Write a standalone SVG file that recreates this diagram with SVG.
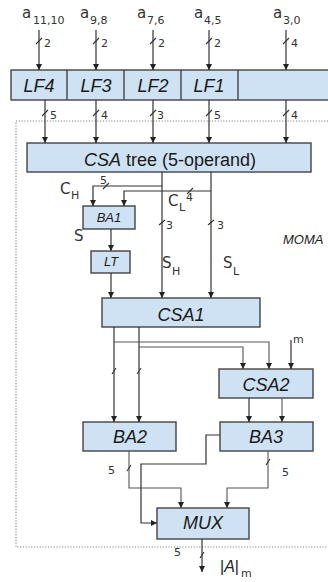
<svg xmlns="http://www.w3.org/2000/svg" width="328" height="582" viewBox="0 0 328 582">
<defs>
<marker id="ah" markerUnits="userSpaceOnUse" markerWidth="7" markerHeight="7" refX="6" refY="3" orient="auto">
<path d="M0,0 L6,3 L0,6 z" fill="#222"/>
</marker>
<style>
.box{fill:#cfe2f3;stroke:#444;stroke-width:1.4}
.ln{fill:none;stroke:#333;stroke-width:1.2}
.lg{fill:none;stroke:#555;stroke-width:1.1}
.ar{marker-end:url(#ah)}
.sl{stroke:#333;stroke-width:1.1}
.bl{font-family:"Liberation Sans",Arial,sans-serif;font-style:italic;font-size:18px;fill:#1a1a1a;text-anchor:middle}
.sm{font-family:"Liberation Sans",Arial,sans-serif;font-style:italic;font-size:13px;fill:#1a1a1a;text-anchor:middle}
.n{font-family:"DejaVu Sans",sans-serif;font-size:11px;fill:#333}
.lab{font-family:"DejaVu Sans",sans-serif;font-size:15px;fill:#333}
.sub{font-family:"DejaVu Sans",sans-serif;font-size:11px;fill:#333}
</style>
</defs>
<rect width="328" height="582" fill="#fff"/>
<rect x="16" y="121" width="330" height="426" fill="none" stroke="#888" stroke-width="1.2" stroke-dasharray="1.2,1.6"/>

<g id="inputs-labels">
<text class="lab" x="22" y="18" font-size="16">a</text><text class="sub" x="33" y="24">11,10</text>
<text class="lab" x="80" y="18" font-size="16">a</text><text class="sub" x="90" y="24">9,8</text>
<text class="lab" x="137" y="18" font-size="16">a</text><text class="sub" x="147" y="24">7,6</text>
<text class="lab" x="194" y="18" font-size="16">a</text><text class="sub" x="204" y="24">4,5</text>
<text class="lab" x="273" y="18" font-size="16">a</text><text class="sub" x="283" y="24">3,0</text>
</g>

<g id="LF-row">
<rect class="box" x="11" y="70" width="340" height="30"/>
<line x1="67" y1="70" x2="67" y2="100" stroke="#444" stroke-width="1.4"/>
<line x1="124" y1="70" x2="124" y2="100" stroke="#444" stroke-width="1.4"/>
<line x1="181" y1="70" x2="181" y2="100" stroke="#444" stroke-width="1.4"/>
<line x1="238" y1="70" x2="238" y2="100" stroke="#444" stroke-width="1.4"/>
</g>
<g id="LF4"><text class="bl" x="39" y="92">LF4</text></g>
<g id="LF3"><text class="bl" x="96" y="92">LF3</text></g>
<g id="LF2"><text class="bl" x="153" y="92">LF2</text></g>
<g id="LF1"><text class="bl" x="209" y="92">LF1</text></g>

<g id="CSAtree"><rect class="box" x="27" y="143" width="284" height="29"/>
<text class="bl" x="170" y="166"><tspan>CSA</tspan><tspan font-style="normal"> tree (5-operand)</tspan></text></g>
<g id="BA1"><rect class="box" x="83" y="206" width="52" height="23"/><text class="sm" x="109" y="222">BA1</text></g>
<g id="LT"><rect class="box" x="91" y="251" width="39" height="22"/><text class="sm" x="111" y="266">LT</text></g>
<g id="CSA1"><rect class="box" x="102" y="298" width="158" height="29"/><text class="bl" x="181" y="321">CSA1</text></g>
<g id="CSA2"><rect class="box" x="219" y="369" width="94" height="29"/><text class="bl" x="266" y="391">CSA2</text></g>
<g id="BA2"><rect class="box" x="83" y="422" width="93" height="29"/><text class="bl" x="130" y="443">BA2</text></g>
<g id="BA3"><rect class="box" x="220" y="422" width="93" height="29"/><text class="bl" x="266" y="443">BA3</text></g>
<g id="MUX"><rect class="box" x="157" y="508" width="92" height="31"/><text class="bl" x="203" y="529">MUX</text></g>

<g id="connectors">
<line class="ln ar" x1="39" y1="30" x2="39" y2="70"/>
<line class="ln ar" x1="96" y1="30" x2="96" y2="70"/>
<line class="ln ar" x1="153" y1="30" x2="153" y2="70"/>
<line class="ln ar" x1="209" y1="30" x2="209" y2="70"/>
<line class="ln ar" x1="286" y1="30" x2="286" y2="70"/>
<line class="ln ar" x1="45" y1="100" x2="45" y2="143"/>
<line class="ln ar" x1="96" y1="100" x2="96" y2="143"/>
<line class="ln ar" x1="153" y1="100" x2="153" y2="143"/>
<line class="ln ar" x1="209" y1="100" x2="209" y2="143"/>
<line class="ln ar" x1="286" y1="100" x2="286" y2="143"/>
<line class="ln ar" x1="162" y1="172" x2="162" y2="298"/>
<line class="ln ar" x1="211" y1="172" x2="211" y2="298"/>
<path class="ln ar" d="M162,186 H93 V206"/>
<path class="ln ar" d="M211,191 H124 V206"/>
<line class="ln ar" x1="111" y1="229" x2="111" y2="251"/>
<line class="ln ar" x1="111" y1="273" x2="111" y2="298"/>
<line class="ln ar" x1="114" y1="327" x2="114" y2="422"/>
<line class="ln ar" x1="139" y1="327" x2="139" y2="422"/>
<path class="lg ar" d="M114,342 H269 V369"/>
<path class="lg ar" d="M139,347 H243 V369"/>
<line class="ln ar" x1="291" y1="340" x2="291" y2="369"/>
<line class="ln ar" x1="249" y1="398" x2="249" y2="422"/>
<line class="lg ar" x1="282" y1="398" x2="282" y2="422"/>
<path class="lg ar" d="M129,451 V488 H181 V508"/>
<path class="ln ar" d="M220,435 H206 V464 H141 V523 H157"/>
<path class="lg ar" d="M268,451 V488 H227 V508"/>
<line class="ln ar" x1="202" y1="539" x2="202" y2="572"/>
<g id="slashes">
<line class="sl" x1="36" y1="44" x2="42" y2="38"/>
<line class="sl" x1="93" y1="44" x2="99" y2="38"/>
<line class="sl" x1="150" y1="44" x2="156" y2="38"/>
<line class="sl" x1="206" y1="44" x2="212" y2="38"/>
<line class="sl" x1="283" y1="44" x2="289" y2="38"/>
<line class="sl" x1="42" y1="116" x2="48" y2="110"/>
<line class="sl" x1="93" y1="116" x2="99" y2="110"/>
<line class="sl" x1="150" y1="116" x2="156" y2="110"/>
<line class="sl" x1="206" y1="116" x2="212" y2="110"/>
<line class="sl" x1="283" y1="116" x2="289" y2="110"/>
<line class="sl" x1="103" y1="189" x2="109" y2="183"/>
<line class="sl" x1="187" y1="194" x2="193" y2="188"/>
<line class="sl" x1="159" y1="225" x2="165" y2="220"/>
<line class="sl" x1="208" y1="225" x2="214" y2="220"/>
<line class="sl" x1="112" y1="374" x2="116" y2="368"/>
<line class="sl" x1="137" y1="374" x2="141" y2="368"/>
<line class="sl" x1="127" y1="471" x2="131" y2="465"/>
<line class="sl" x1="266" y1="465" x2="270" y2="459"/>
<line class="sl" x1="200" y1="558" x2="204" y2="552"/>
</g>
</g>

<g id="labels">
<text class="n" x="44" y="47">2</text>
<text class="n" x="101" y="47">2</text>
<text class="n" x="158" y="47">2</text>
<text class="n" x="214" y="47">2</text>
<text class="n" x="291" y="47">4</text>
<text class="n" x="50" y="119">5</text>
<text class="n" x="101" y="119">4</text>
<text class="n" x="157" y="119">3</text>
<text class="n" x="214" y="119">5</text>
<text class="n" x="291" y="119">4</text>
<text class="n" x="100" y="184">5</text>
<text class="lab" x="60" y="194" font-size="14">C</text><text class="sub" x="71" y="199">H</text>
<text class="lab" x="168" y="206" font-size="14">C</text><text class="sub" x="179" y="211">L</text>
<text class="n" x="186" y="201">4</text>
<text class="lab" x="74" y="241" font-size="14">S</text>
<text class="n" x="166" y="229">3</text>
<text class="n" x="217" y="229">3</text>
<text class="lab" x="162" y="268" font-size="14">S</text><text class="sub" x="172" y="275">H</text>
<text class="lab" x="223" y="268" font-size="14">S</text><text class="sub" x="233" y="275">L</text>
<text x="283" y="244" font-family="Liberation Sans,Arial,sans-serif" font-style="italic" font-size="13" fill="#222">MOMA</text>
<text class="sub" x="293" y="343">m</text>
<text class="n" x="108" y="474">5</text>
<text class="n" x="282" y="476">5</text>
<text class="n" x="174" y="556">5</text>
<text x="220" y="572" font-family="Liberation Sans,Arial,sans-serif" font-size="16" fill="#222">|<tspan font-style="italic">A</tspan>|</text>
<text class="sub" x="241" y="577">m</text>
</g>
</svg>
